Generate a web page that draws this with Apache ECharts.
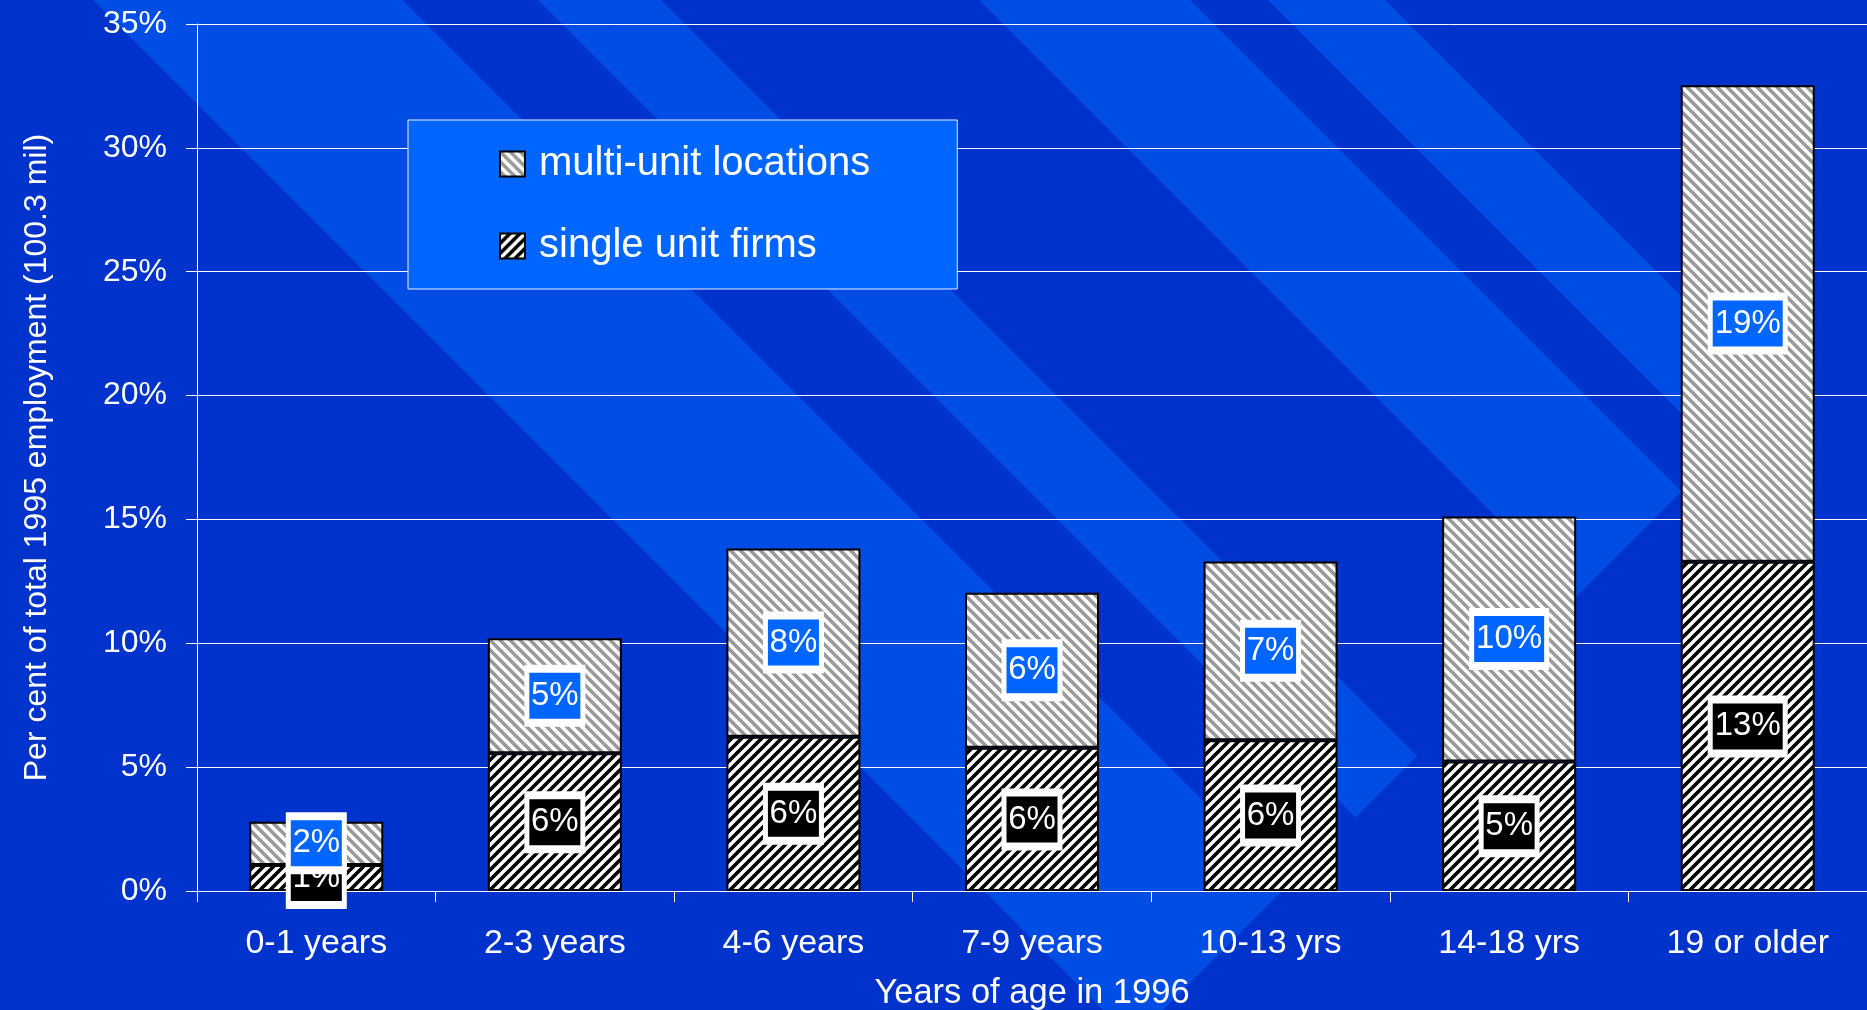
<!DOCTYPE html>
<html>
<head>
<meta charset="utf-8">
<script src="https://cdn.jsdelivr.net/npm/echarts@6/dist/echarts.min.js"></script>
<style>
html,body{margin:0;padding:0;background:#0033CC;overflow:hidden}
#c{width:1867px;height:1010px}
</style>
</head>
<body>
<div id="c"></div>
<script>
// ---- data ----
const categories = ['0-1 years', '2-3 years', '4-6 years', '7-9 years', '10-13 yrs', '14-18 yrs', '19 or older'];
const singleUnitFirms = [1.05, 5.56, 6.23, 5.78, 6.09, 5.23, 13.29];
const multiUnitLocations = [1.75, 4.64, 7.60, 6.26, 7.21, 9.89, 19.24];
const seriesNames = ['multi-unit locations', 'single unit firms'];

const FONT = '"Liberation Sans", Arial, sans-serif';

function stripe(dir, color) {
  const n = 10;
  const c = document.createElement('canvas');
  c.width = n; c.height = n;
  const g = c.getContext('2d');
  g.fillStyle = '#fff';
  g.fillRect(0, 0, n, n);
  g.strokeStyle = color;
  g.lineWidth = 3.6;
  g.beginPath();
  const h = n / 2;
  if (dir === '/') {
    g.moveTo(-h, h); g.lineTo(h, -h);
    g.moveTo(0, n); g.lineTo(n, 0);
    g.moveTo(h, n + h); g.lineTo(n + h, h);
  } else {
    g.moveTo(-h, h); g.lineTo(h, n + h);
    g.moveTo(0, 0); g.lineTo(n, n);
    g.moveTo(h, -h); g.lineTo(n + h, h);
  }
  g.stroke();
  return c;
}

function labelCfg(inner) {
  const tok = w => ({
    color: '#fff',
    fontSize: 33,
    fontFamily: FONT,
    backgroundColor: inner,
    width: w,
    height: 46,
    lineHeight: 46,
    align: 'center'
  });
  return {
    show: true,
    position: 'inside',
    formatter: p => {
      const s = Math.round(p.value) + '%';
      return '{' + (s.length > 2 ? 'b' : 'a') + '|' + s + '}';
    },
    backgroundColor: '#fff',
    padding: [8, 5],
    rich: { a: tok(51), b: tok(70) }
  };
}

const LIGHT = '#004DE6';
function band(pts) {
  return { type: 'polygon', z: -10, silent: true, shape: { points: pts }, style: { fill: LIGHT } };
}

const chart = echarts.init(document.getElementById('c'), null, { renderer: 'canvas' });
chart.setOption({
  backgroundColor: '#0033CC',
  animation: false,
  graphic: {
    elements: [
      band([[93, 0], [402, 0], [1287.5, 885.5], [1133, 1040]]),
      band([[538, 0], [661, 0], [1417, 756], [1355.5, 817.5]]),
      band([[979, 0], [1190, 0], [1681.5, 491.5], [1576, 597]]),
      band([[1268, 0], [1385, 0], [1779, 394], [1720.5, 452.5]])
    ]
  },
  grid: { left: 197, right: 0, top: 24, bottom: 119, containLabel: false, outerBoundsMode: 'none' },
  legend: {
    data: seriesNames,
    orient: 'vertical',
    left: 408,
    top: 120,
    padding: [22, 87, 21, 91],
    itemGap: 38,
    itemWidth: 25,
    itemHeight: 25,
    icon: 'rect',
    backgroundColor: '#0066FF',
    borderColor: '#e8eeff',
    borderWidth: 1,
    selectedMode: false,
    textStyle: { color: '#fff', fontSize: 40, fontFamily: FONT, lineHeight: 44, padding: [0, 0, 0, 9] }
  },
  xAxis: {
    type: 'category',
    data: categories,
    name: 'Years of age in 1996',
    nameLocation: 'middle',
    nameGap: 85,
    nameTextStyle: { color: '#fff', fontSize: 34.5, fontFamily: FONT },
    axisLine: { lineStyle: { color: '#fff', width: 1 } },
    axisTick: { show: true, length: 11, lineStyle: { color: '#fff' } },
    axisLabel: { color: '#fff', fontSize: 34, fontFamily: FONT, margin: 36 },
    splitLine: { show: false }
  },
  yAxis: {
    type: 'value',
    min: 0,
    max: 35,
    interval: 5,
    name: 'Per cent of total 1995 employment (100.3 mil)',
    nameLocation: 'middle',
    nameGap: 144,
    nameTextStyle: { color: '#fff', fontSize: 32, fontFamily: FONT },
    axisLine: { show: true, lineStyle: { color: '#fff', width: 1 } },
    axisTick: { show: true, length: 11, lineStyle: { color: '#fff' } },
    axisLabel: { color: '#fff', fontSize: 32, fontFamily: FONT, margin: 30, formatter: '{value}%' },
    splitLine: { show: true, lineStyle: { color: '#fff', width: 1 } }
  },
  series: [
    {
      name: seriesNames[1],
      type: 'bar',
      stack: 'total',
      barWidth: 134,
      data: singleUnitFirms,
      itemStyle: { color: { image: stripe('/', '#000'), repeat: 'repeat' }, borderColor: '#000', borderWidth: 2 },
      label: labelCfg('#000')
    },
    {
      name: seriesNames[0],
      type: 'bar',
      stack: 'total',
      barWidth: 134,
      data: multiUnitLocations,
      itemStyle: { color: { image: stripe('\\', '#999'), repeat: 'repeat' }, borderColor: '#000', borderWidth: 2 },
      label: labelCfg('#0066FF')
    }
  ]
});
</script>
</body>
</html>
